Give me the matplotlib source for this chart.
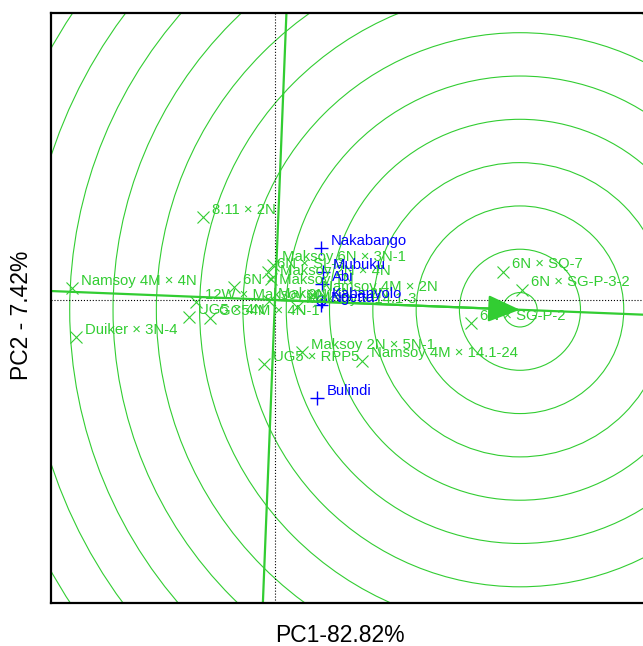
#!/usr/bin/env python3
"""
GGE biplot - ranking genotypes relative to the ideal genotype
"""

import matplotlib
matplotlib.use("Agg")
import matplotlib.pyplot as plt
from matplotlib.patches import Circle

plt.rcParams['font.family'] = ['Liberation Sans', 'DejaVu Sans']

GREEN = 'limegreen'
BLUE = 'blue'

# genotype scores (PC1, PC2)
genotypes = ["Namsoy 4M × 4N", "Duiker × 3N-4", "8.11 × 2N", "12W × Maksoy 2N",
             "UG5 × 4N", "GC54M × 4N-1", "6N × Maksoy 1N", "Maksoy 6N × 3N-1",
             "6N × SL-3", "Maksoy 2N × 4N", "Namsoy 4M × 2N", "Maksoy 4N × 2N",
             "Maksoy × 14.1-3", "UG5 × RPP5", "Maksoy 2N × 5N-1",
             "Namsoy 4M × 14.1-24", "6N × SQ-7", "6N × SG-P-3-2", "6N × SG-P-2"]
gen_pc1 = [-3.38, -3.32, -1.195, -1.32, -1.43, -1.08, -0.68, -0.035,
           -0.12, -0.07, 0.635, -0.10, 0.37, -0.185, 0.45,
           1.445, 3.805, 4.11, 3.26]
gen_pc2 = [0.195, -0.62, 1.38, -0.04, -0.29, -0.305, 0.21, 0.585,
           0.47, 0.35, 0.085, -0.02, -0.115, -1.07, -0.87,
           -1.01, 0.47, 0.165, -0.39]

# environment scores
environments = ["Nakabango", "Mubuku", "Abi", "Kabanyolo", "Ngetta", "Bulindi"]
env_pc1 = [0.76, 0.805, 0.78, 0.78, 0.765, 0.695]
env_pc2 = [0.86, 0.47, 0.265, -0.015, -0.085, -1.64]

# average environment marker and ideal genotype
avg_env = (0.76, 0.0)
ideal = (4.083, -0.163)
circle_radii = [0.287, 1.009, 1.730, 2.452, 3.174, 3.895, 4.617,
                5.339, 6.060, 6.782, 7.504, 8.225, 8.947, 9.669]

pc1_label = "PC1-82.82%"
pc2_label = "PC2 - 7.42%"


def draw_biplot():
    fig = plt.figure(figsize=(6.43, 6.46), dpi=100)
    ax = fig.add_axes([0.0793, 0.0658, 0.9238, 0.9146])
    ax.set_xlim(-3.733, 6.167)
    ax.set_ylim(-5.058, 4.788)

    # concentric circles around the ideal genotype
    for r in circle_radii:
        ax.add_patch(Circle(ideal, r, fill=False, ec=GREEN, lw=0.8))

    # reference axes
    ax.axhline(0, color='black', ls=':', lw=0.8)
    ax.axvline(0, color='black', ls=':', lw=0.8)

    # average environment axis and its perpendicular
    ax.axline((0, 0), ideal, color=GREEN, lw=1.6)
    ax.axline((0, 0), (-ideal[1], ideal[0]), color=GREEN, lw=1.6)
    ax.annotate('', xy=ideal, xytext=(0, 0),
                arrowprops=dict(arrowstyle='-|>,head_length=1.0,head_width=0.42',
                                mutation_scale=20, color=GREEN, lw=1.6,
                                shrinkA=0, shrinkB=0))

    # genotypes
    ax.plot(gen_pc1, gen_pc2, ls='none', marker='x', ms=8, mew=0.8, color=GREEN)
    for name, x, y in zip(genotypes, gen_pc1, gen_pc2):
        ax.annotate(name, (x, y), xytext=(6.5, 5.5), textcoords='offset points',
                    ha='left', va='center', fontsize=10.7, color=GREEN)

    # environments
    ax.plot(env_pc1, env_pc2, ls='none', marker='+', ms=10, mew=1.0, color=BLUE)
    ax.plot(*avg_env, ls='none', marker='o', ms=7, mfc='none', mew=1.0, color=BLUE)
    for name, x, y in zip(environments, env_pc1, env_pc2):
        ax.annotate(name, (x, y), xytext=(7, 5), textcoords='offset points',
                    ha='left', va='center', fontsize=10.7, color=BLUE)

    ax.set_xticks([])
    ax.set_yticks([])
    for sp in ax.spines.values():
        sp.set_linewidth(1.6)

    fig.text(340 / 643, 1 - 636 / 646, pc1_label, ha='center', va='center', fontsize=16.5)
    fig.text(21.7 / 643, 1 - 315 / 646, pc2_label, ha='center', va='center',
             fontsize=16.5, rotation=90)

    fig.savefig('out.png', dpi=100)


if __name__ == "__main__":
    draw_biplot()
